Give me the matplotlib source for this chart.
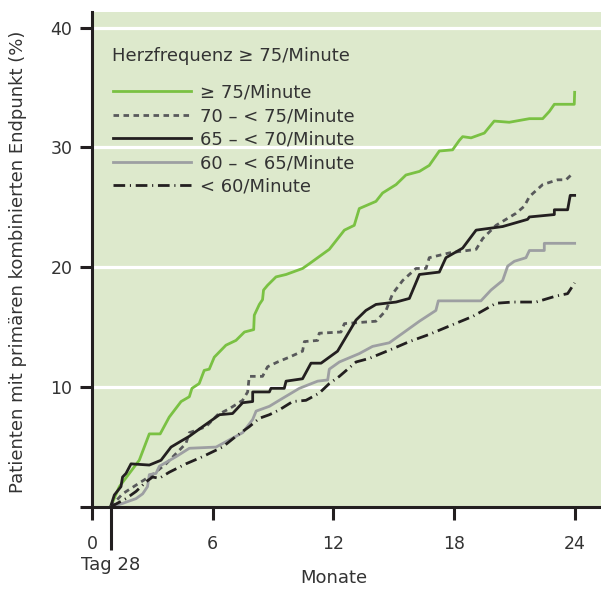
import matplotlib.pyplot as plt
import matplotlib.transforms as mtransforms

# Monate / kumulative Ereignisrate (%) je Herzfrequenzgruppe
hr75_x = [0.92, 1.36, 2.35, 2.85, 3.39, 3.84, 4.43, 4.84, 4.97, 5.33, 5.58, 5.83, 6.08, 6.66, 7.16,
          7.58, 8.04, 8.07, 8.32, 8.48, 8.53, 8.73, 9.15, 9.65, 10.47, 10.81, 11.8, 12.55, 13.04,
          13.29, 14.12, 14.45, 15.12, 15.61, 16.28, 16.77, 17.02, 17.27, 17.93, 18.27, 18.43,
          18.85, 19.51, 20.0, 20.75, 21.08, 21.75, 22.41, 22.74, 22.99, 23.98, 24.0]
hr75_y = [0.0, 1.7, 3.9, 6.1, 6.1, 7.5, 8.8, 9.2, 9.9, 10.3, 11.4, 11.5, 12.5, 13.5, 13.9,
          14.6, 14.8, 16.0, 16.9, 17.3, 18.1, 18.5, 19.2, 19.4, 19.9, 20.3, 21.5, 23.1, 23.5,
          24.9, 25.5, 26.2, 26.9, 27.7, 28.0, 28.5, 29.1, 29.7, 29.8, 30.6, 30.9,
          30.8, 31.2, 32.2, 32.1, 32.2, 32.4, 32.4, 33.0, 33.6, 33.6, 34.6]

hr70_x = [0.92, 1.52, 2.35, 3.01, 3.68, 4.67, 4.84, 5.67, 6.25, 6.83, 7.49, 7.74, 7.82, 8.48,
          8.73, 9.23, 9.81, 10.47, 10.56, 11.22, 11.3, 12.38, 12.55, 14.12, 14.62, 14.95, 15.45,
          15.78, 16.11, 16.61, 16.77, 17.77, 19.1, 19.43, 20.09, 21.08, 21.5, 21.75, 22.41,
          23.15, 23.57, 23.95]
hr70_y = [0.0, 1.1, 2.0, 2.7, 3.6, 5.3, 6.2, 6.7, 7.7, 8.2, 8.9, 9.6, 10.9, 10.9,
          11.7, 12.1, 12.5, 13.0, 13.8, 13.9, 14.5, 14.6, 15.3, 15.5, 16.4, 17.8, 18.9,
          19.4, 19.9, 19.9, 20.8, 21.2, 21.5, 22.4, 23.5, 24.5, 25.1, 25.9, 26.9,
          27.3, 27.3, 27.9]

hr65_x = [0.92, 1.11, 1.44, 1.52, 1.69, 1.94, 2.85, 3.43, 3.93, 4.43, 4.84, 5.5, 6.34, 6.99,
          7.49, 7.99, 7.99, 8.82, 8.9, 9.56, 9.65, 10.47, 10.89, 11.39, 12.21, 13.13, 13.62,
          14.12, 15.12, 15.78, 16.28, 17.27, 17.6, 18.43, 19.1, 20.42, 21.66, 21.75, 22.99,
          22.99, 23.65, 23.78, 24.0]
hr65_y = [0.0, 1.0, 1.7, 2.5, 2.8, 3.6, 3.5, 3.9, 5.0, 5.5, 5.9, 6.7, 7.7, 7.8,
          8.7, 8.8, 9.6, 9.6, 9.9, 9.9, 10.5, 10.7, 12.0, 12.0, 13.0, 15.6, 16.4,
          16.9, 17.1, 17.4, 19.4, 19.6, 20.8, 21.6, 23.1, 23.4, 24.0, 24.2, 24.4,
          24.8, 24.8, 26.0, 26.0]

hr60_x = [0.92, 1.52, 2.19, 2.52, 2.76, 2.85, 3.18, 3.35, 4.18, 4.84, 6.17, 6.83, 7.49, 7.99,
          8.16, 8.82, 9.31, 10.31, 11.22, 11.72, 11.8, 12.3, 13.29, 13.95, 14.78, 15.45, 16.28,
          17.1, 17.22, 19.34, 19.84, 20.42, 20.67, 21.0, 21.58, 21.75, 22.49, 22.49, 24.0]
hr60_y = [0.0, 0.3, 0.7, 1.1, 1.7, 2.7, 2.8, 3.4, 4.2, 4.9, 5.0, 5.6, 6.2, 7.3,
          8.0, 8.4, 8.9, 9.9, 10.5, 10.6, 11.5, 12.1, 12.8, 13.4, 13.7, 14.5, 15.5,
          16.4, 17.2, 17.2, 18.1, 18.9, 20.1, 20.5, 20.8, 21.4, 21.4, 22.0, 22.0]

hrlt60_x = [0.92, 1.69, 2.19, 2.69, 3.01, 3.35, 3.84, 4.67, 5.5, 6.49, 7.16, 7.82, 8.32, 8.82,
            9.31, 9.98, 10.64, 11.3, 11.8, 12.3, 13.13, 13.79, 14.95, 15.78, 16.77, 17.77,
            18.93, 20.09, 20.92, 22.08, 23.07, 23.65, 24.0]
hrlt60_y = [0.0, 0.7, 1.3, 2.1, 2.5, 2.4, 2.9, 3.6, 4.2, 5.0, 5.9, 6.7, 7.4, 7.7,
            8.1, 8.8, 8.9, 9.5, 10.3, 10.9, 12.1, 12.4, 13.2, 13.8, 14.4, 15.1,
            15.9, 17.0, 17.1, 17.1, 17.6, 17.8, 18.7]

labels = ['\u2265 75/Minute', '70 \u2013 < 75/Minute', '65 \u2013 < 70/Minute',
          '60 \u2013 < 65/Minute', '< 60/Minute']
x_ticks = [0, 6, 12, 18, 24]
y_ticks = [10, 20, 30, 40]

dark = '#231f20'
txt = '#333333'
fs = 13
plt.rcParams['font.family'] = 'DejaVu Sans'
plt.rcParams['font.size'] = fs

fig = plt.figure(figsize=(6.01, 5.9), dpi=100)
ax = fig.add_axes([92 / 601, 1 - 507 / 590, 509 / 601, 495 / 590])
ax.set_facecolor('#dde9cc')

for yv in y_ticks:
    ax.axhline(yv, color='white', lw=2.3, zorder=1)

ax.plot(hr75_x, hr75_y, color='#7ac143', lw=2.0, label=labels[0], zorder=3)
ax.plot(hr70_x, hr70_y, color='#58595b', lw=2.0, dashes=(2.0, 1.6), label=labels[1], zorder=3)
ax.plot(hr65_x, hr65_y, color=dark, lw=2.0, label=labels[2], zorder=3)
ax.plot(hr60_x, hr60_y, color='#9d9fa2', lw=2.0, label=labels[3], zorder=3)
ax.plot(hrlt60_x, hrlt60_y, color=dark, lw=2.0, dashes=(4.2, 1.7, 0.4, 1.7), label=labels[4], zorder=3)

ax.set_xlim(0, 25.31)
ax.set_ylim(0, 41.3)
ax.set_xticks(x_ticks)
ax.set_yticks([0] + y_ticks)
ax.set_yticklabels([''] + [str(v) for v in y_ticks])
ax.set_xticks([0.92], minor=True)

for side in ['top', 'right']:
    ax.spines[side].set_visible(False)
for side in ['left', 'bottom']:
    ax.spines[side].set_linewidth(2.2)
    ax.spines[side].set_color(dark)
    ax.spines[side].set_zorder(4)

ax.tick_params(axis='both', which='major', direction='out', length=9, width=2.2,
               color=dark, labelcolor=txt, labelsize=12.5)
ax.tick_params(axis='x', which='major', pad=11)
ax.tick_params(axis='y', which='major', pad=5)
ax.tick_params(axis='x', which='minor', direction='out', length=31, width=2.2, color=dark)

trans = mtransforms.blended_transform_factory(ax.transData, ax.transAxes)
ax.text(0.92, -0.117, 'Tag 28', transform=trans, ha='center', va='center',
        fontsize=fs, color=txt)
ax.text(12, -0.143, 'Monate', transform=trans, ha='center', va='center',
        fontsize=fs, color=txt)
ax.set_ylabel('Patienten mit prim\u00e4ren kombinierten Endpunkt (%)', fontsize=fs, color=txt)
ax.yaxis.set_label_coords(-0.127, 0.495)

ax.text(0.039, 0.911, 'Herzfrequenz \u2265 75/Minute', transform=ax.transAxes,
        ha='left', va='center', fontsize=fs, color=txt)
leg = ax.legend(loc='upper left', bbox_to_anchor=(0.041, 0.855), frameon=False,
                handlelength=4.3, handletextpad=0.5, labelspacing=0.3,
                fontsize=fs, borderaxespad=0, borderpad=0)
for t in leg.get_texts():
    t.set_color(txt)

fig.savefig('out.png', dpi=100)
